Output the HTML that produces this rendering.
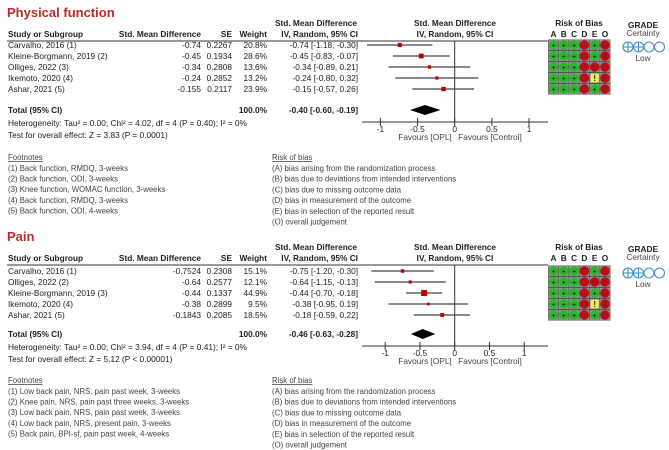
<!DOCTYPE html>
<html><head><meta charset="utf-8"><style>
html,body{margin:0;padding:0;background:#fff;}
svg{display:block;font-family:"Liberation Sans",Arial,sans-serif;}
</style></head><body>
<svg id="c" width="669" height="450" viewBox="0 0 669 450"></svg>
<script>
// Panel 1: Physical function
const pfStudies=["Carvalho, 2016 (1)","Kleine-Borgmann, 2019 (2)","Olliges, 2022 (3)","Ikemoto, 2020 (4)","Ashar, 2021 (5)"];
const pfSMD=["-0.74","-0.45","-0.34","-0.24","-0.155"];
const pfSE=["0.2267","0.1934","0.2808","0.2852","0.2117"];
const pfWeight=[20.8,28.6,13.6,13.2,23.9];
const pfEst=[-0.74,-0.45,-0.34,-0.24,-0.15];
const pfLo=[-1.18,-0.83,-0.89,-0.80,-0.57];
const pfHi=[-0.30,-0.07,0.21,0.32,0.26];
const pfTotal=[-0.40,-0.60,-0.19];
const pfRob=[["+","+","+","R","+","R"],["+","+","+","R","+","R"],["+","+","+","R","R","R"],["+","+","+","R","!","R"],["+","+","+","R","+","R"]];
const pfFoot=["(1) Back function, RMDQ, 3-weeks","(2) Back function, ODI, 3-weeks","(3) Knee function, WOMAC function, 3-weeks","(4) Back function, RMDQ, 3-weeks","(5) Back function, ODI, 4-weeks"];
// Panel 2: Pain
const pnStudies=["Carvalho, 2016 (1)","Olliges, 2022 (2)","Kleine-Borgmann, 2019 (3)","Ikemoto, 2020 (4)","Ashar, 2021 (5)"];
const pnSMD=["-0.7524","-0.64","-0.44","-0.38","-0.1843"];
const pnSE=["0.2308","0.2577","0.1337","0.2899","0.2085"];
const pnWeight=[15.1,12.1,44.9,9.5,18.5];
const pnEst=[-0.75,-0.64,-0.44,-0.38,-0.18];
const pnLo=[-1.20,-1.15,-0.70,-0.95,-0.59];
const pnHi=[-0.30,-0.13,-0.18,0.19,0.22];
const pnTotal=[-0.46,-0.63,-0.28];
const pnRob=[["+","+","+","R","+","R"],["+","+","+","R","R","R"],["+","+","+","R","+","R"],["+","+","+","R","!","R"],["+","+","+","R","+","R"]];
const pnFoot=["(1) Low back pain, NRS, pain past week, 3-weeks","(2) Knee pain, NRS, pain past three weeks, 3-weeks","(3) Low back pain, NRS, pain past week, 3-weeks","(4) Low back pain, NRS, present pain, 3-weeks","(5) Back pain, BPI-sf, pain past week, 4-weeks"];
const ticks=[-1,-0.5,0,0.5,1];
const tickLabels=["-1","-0.5","0","0.5","1"];
const robLegend=["(A) bias arising from the randomization process","(B) bias due to deviations from intended interventions","(C) bias due to missing outcome data","(D) bias in measurement of the outcome","(E) bias in selection of the reported result","(O) overall judgement"];

const svg=document.getElementById('c');
const NS="http://www.w3.org/2000/svg";
function el(tag,attrs,text){const e=document.createElementNS(NS,tag);for(const k in attrs)e.setAttribute(k,attrs[k]);if(text!==undefined)e.textContent=text;svg.appendChild(e);return e;}
function txt(x,y,s,name,opt){opt=opt||{};const e=el('text',{x:x,y:y,'font-size':opt.fs||8.3,'text-anchor':opt.anchor||'start','font-weight':opt.bold?'bold':'normal',fill:opt.fill||'#222'},s);


if(opt.u)e.setAttribute('text-decoration','underline');return e;}

function panel(o){
  const X=v=>o.zero+v*o.scale;
  txt(7,o.titleY,o.title,'panel-title',{fs:13,bold:true,fill:'#c0282d'});
  const h1=o.hdrY, h2=o.hdrY+11;
  txt(316,h1,"Std. Mean Difference",'ci-header',{bold:true,anchor:'middle'});
  txt(8,h2,"Study or Subgroup",'study-header',{bold:true});
  txt(201,h2,"Std. Mean Difference",'smd-header',{bold:true,anchor:'end'});
  txt(232,h2,"SE",'se-header',{bold:true,anchor:'end'});
  txt(267,h2,"Weight",'weight-header',{bold:true,anchor:'end'});
  txt(358,h2,"IV, Random, 95% CI",'ci-header-2',{bold:true,anchor:'end'});
  txt(455,h1,"Std. Mean Difference",'plot-header',{bold:true,anchor:'middle'});
  txt(455,h2,"IV, Random, 95% CI",'plot-header-2',{bold:true,anchor:'middle'});
  txt(579,h1,"Risk of Bias",'rob-header',{bold:true,anchor:'middle'});
  const letters=["A","B","C","D","E","O"];
  letters.forEach((l,i)=>txt(553.5+i*10.3,h2,l,'rob-column-'+l,{bold:true,anchor:'middle'}));
  txt(643,o.hdrY+2,"GRADE",'grade-header',{bold:true,anchor:'middle'});
  txt(643,o.hdrY+10,"Certainty",'grade-subheader',{anchor:'middle',fill:'#444'});
  const lineY=o.hdrY+15;
  let l=el('line',{x1:7,x2:548,y1:lineY,y2:lineY,stroke:'#333','stroke-width':1});
  
  
  const rowY=i=>o.row0+i*11;
  l=el('line',{x1:X(0),x2:X(0),y1:lineY,y2:o.axisY,stroke:'#333','stroke-width':1});
  
  
  o.studies.forEach((s,i)=>{
    const y=rowY(i);
    txt(8,y+3,s,'study-name');
    txt(201,y+3,o.smd[i],'smd-value',{anchor:'end'});
    txt(232,y+3,o.se[i],'se-value',{anchor:'end'});
    txt(267,y+3,o.weight[i].toFixed(1)+"%",'weight-value',{anchor:'end'});
    txt(358,y+3,o.est[i].toFixed(2)+" ["+o.lo[i].toFixed(2)+", "+o.hi[i].toFixed(2)+"]",'ci-value',{anchor:'end'});
    const ln=el('line',{x1:X(o.lo[i]),x2:X(o.hi[i]),y1:y,y2:y,stroke:'#444','stroke-width':1.2});
    
    
    const sz=Math.sqrt(o.weight[i])*0.9;
    const sq=el('rect',{x:X(o.est[i])-sz/2,y:y-sz/2,width:sz,height:sz,fill:'#c00000'});
    
    
    o.rob[i].forEach((r,j)=>{
      const cx=553.5+j*10.3;
      const c=el('rect',{x:cx-5.15,y:y-5.2,width:10.3,height:10.4,fill:'#999',stroke:'#555','stroke-width':0.6});
      
      
      if(r==="!"){
        const yy=el('rect',{x:cx-4,y:y-4.3,width:8,height:8.6,fill:'#f2ee4a'});
        
        
        txt(cx,y+3,"!",'rob-mark',{anchor:'middle',bold:true,fs:8});
      } else {
        const ci=el('circle',{cx:cx,cy:y,r:4.8,fill:r==="+"?'#2db52d':'#b3101a'});
        
        
        if(r==="+")txt(cx,y+2.3,"+",'rob-mark',{anchor:'middle',fs:6.5,fill:'#000'});
      }
    });
  });
  for(let k=0;k<4;k++){
    const cx=628+k*10.5, cy=o.row0+2;
    const c=el('circle',{cx:cx,cy:cy,r:5,fill:'none',stroke:'#3c8fc0','stroke-width':1.1});
    
    
    if(k<2){
      const a=el('path',{d:`M${cx-5} ${cy}H${cx+5}M${cx} ${cy-5}V${cy+5}`,stroke:'#3c8fc0','stroke-width':1});
      
      
    }
  }
  txt(643,o.row0+16,"Low",'grade-level',{anchor:'middle',fill:'#444'});
  const ty=o.totalY;
  txt(8,ty+3,"Total (95% CI)",'total-label',{bold:true});
  txt(267,ty+3,"100.0%",'total-weight',{bold:true,anchor:'end'});
  txt(358,ty+3,o.total[0].toFixed(2)+" ["+o.total[1].toFixed(2)+", "+o.total[2].toFixed(2)+"]",'total-ci',{bold:true,anchor:'end'});
  const d=el('polygon',{points:`${X(o.total[1])},${ty} ${X(o.total[0])},${ty-5} ${X(o.total[2])},${ty} ${X(o.total[0])},${ty+5}`,fill:'#000'});
  
  
  txt(8,o.hetY,o.het,'heterogeneity-text');
  txt(8,o.hetY+12,o.test,'overall-effect-text');
  const ax=el('line',{x1:362,x2:548,y1:o.axisY,y2:o.axisY,stroke:'#333','stroke-width':1});
  
  
  ticks.forEach((t,i)=>{
    const tk=el('line',{x1:X(t),x2:X(t),y1:o.axisY-4,y2:o.axisY+4,stroke:'#333','stroke-width':1});
    
    
    txt(X(t),o.axisY+10,tickLabels[i],'x-tick-label',{anchor:'middle'});
  });
  txt(425,o.axisY+18,"Favours [OPL]",'favours-left',{anchor:'middle',fill:'#444'});
  txt(490,o.axisY+18,"Favours [Control]",'favours-right',{anchor:'middle',fill:'#444'});
  txt(8,o.footY,"Footnotes",'footnotes-title',{u:true,fs:7.8,fill:'#444'});
  o.foot.forEach((f,i)=>txt(8,o.footY+11+i*10.6,f,'footnote',{fs:7.8,fill:'#444'}));
  txt(272,o.footY,"Risk of bias",'rob-legend-title',{u:true,fs:7.8,fill:'#444'});
  robLegend.forEach((f,i)=>txt(272,o.footY+11+i*10.7,f,'rob-legend-item',{fs:7.8,fill:'#444'}));
}
panel({title:"Physical function",titleY:17,hdrY:26,row0:45,totalY:110,hetY:126,axisY:122,zero:454.7,scale:74.3,
 studies:pfStudies,smd:pfSMD,se:pfSE,weight:pfWeight,est:pfEst,lo:pfLo,hi:pfHi,total:pfTotal,rob:pfRob,
 het:"Heterogeneity: Tau² = 0.00; Chi² = 4.02, df = 4 (P = 0.40); I² = 0%",test:"Test for overall effect: Z = 3.83 (P = 0.0001)",foot:pfFoot,footY:160});
panel({title:"Pain",titleY:241,hdrY:250,row0:271,totalY:334,hetY:350,axisY:346,zero:454.7,scale:69.5,
 studies:pnStudies,smd:pnSMD,se:pnSE,weight:pnWeight,est:pnEst,lo:pnLo,hi:pnHi,total:pnTotal,rob:pnRob,
 het:"Heterogeneity: Tau² = 0.00; Chi² = 3.94, df = 4 (P = 0.41); I² = 0%",test:"Test for overall effect: Z = 5.12 (P < 0.00001)",foot:pnFoot,footY:383});
</script>
</body></html>
